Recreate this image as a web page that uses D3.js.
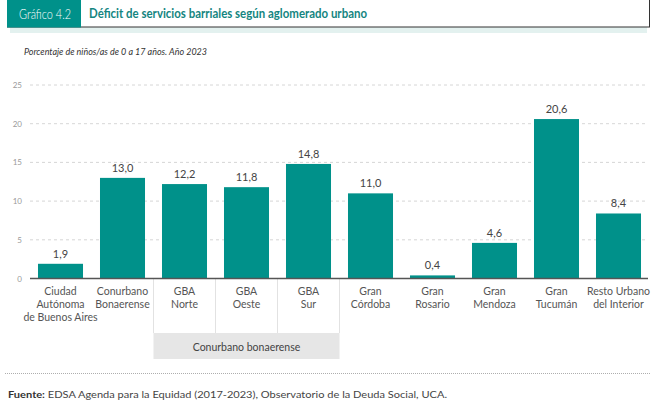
<!DOCTYPE html>
<html><head><meta charset="utf-8">
<script src="https://cdn.jsdelivr.net/npm/d3@7"></script>
<style>body{margin:0;background:#fff}svg{display:block;font-family:Lato,"Noto Sans",sans-serif}</style>
</head><body><svg id="c" width="662" height="409"></svg>
<script>
const categories = [
  ["Ciudad","Autónoma","de Buenos Aires"],
  ["Conurbano","Bonaerense"],
  ["GBA","Norte"],
  ["GBA","Oeste"],
  ["GBA","Sur"],
  ["Gran","Córdoba"],
  ["Gran","Rosario"],
  ["Gran","Mendoza"],
  ["Gran","Tucumán"],
  ["Resto Urbano","del Interior"]
];
const values = [1.9, 13.0, 12.2, 11.8, 14.8, 11.0, 0.4, 4.6, 20.6, 8.4];
const yTicks = [0, 5, 10, 15, 20, 25];
const groupLabel = "Conurbano bonaerense";
const groupMembers = [2, 3, 4];

const teal = "#00918a";
const svg = d3.select("#c");
const ids = categories.map((d,i)=>i);
const x = d3.scaleBand().domain(ids).range([29.5, 649.5]).paddingInner(0.274).paddingOuter(0.137);
const y = d3.scaleLinear().domain([0,25]).range([278.5, 85]);

// Header
svg.append("rect").attr("x",10).attr("y",27).attr("width",637).attr("height",6).attr("fill","#e3f1ef");
svg.append("rect").attr("x",7.5).attr("y",-2).attr("width",642).attr("height",29).attr("fill","#fff").attr("stroke","#333").attr("stroke-width",1);
svg.append("rect").attr("x",7).attr("y",0).attr("width",74).attr("height",27.5).attr("fill","#00918a");
svg.append("text").attr("x",19).attr("y",18.5).attr("fill","#fff").attr("font-size",14).attr("font-weight",300)
  .attr("textLength",52).attr("lengthAdjust","spacingAndGlyphs").text("Gráfico 4.2");
svg.append("text").attr("x",89).attr("y",18).attr("fill","#14857f").attr("font-size",13.5).attr("font-weight","bold")
  .attr("textLength",278).attr("lengthAdjust","spacingAndGlyphs").text("Déficit de servicios barriales según aglomerado urbano");

svg.append("text").attr("x",24).attr("y",55).attr("fill","#333").attr("font-size",10).attr("font-style","italic")
  .attr("textLength",183).attr("lengthAdjust","spacingAndGlyphs").text("Porcentaje de niños/as de 0 a 17 años. Año 2023");

// Grid
const g = svg.append("g");
g.selectAll("line.grid").data(yTicks.filter(t=>t>0)).join("line")
  .attr("x1",30).attr("x2",648).attr("y1",d=>y(d)).attr("y2",d=>y(d))
  .attr("stroke","#ccc").attr("stroke-dasharray","3,3").attr("stroke-width",0.8);
g.selectAll("text.yt").data(yTicks).join("text")
  .attr("x",22).attr("y",d=>y(d)+3).attr("text-anchor","end").attr("fill","#999").attr("font-size",8).text(d=>d);

// Group box
const gx0 = x(groupMembers[0]) - x.step()*x.paddingInner()/2;
const gx1 = x(groupMembers[groupMembers.length-1]) + x.bandwidth() + x.step()*x.paddingInner()/2;
svg.append("rect").attr("x",gx0).attr("y",333).attr("width",gx1-gx0).attr("height",26).attr("fill","#e6e6e6");
svg.append("text").attr("x",(gx0+gx1)/2).attr("y",351).attr("text-anchor","middle").attr("fill","#444").attr("font-size",10.5).text(groupLabel);
const seps = groupMembers.map(i=>x(i)-x.step()*x.paddingInner()/2).concat([gx1]);
svg.selectAll("line.sep").data(seps).join("line")
  .attr("x1",d=>d).attr("x2",d=>d).attr("y1",279).attr("y2",333).attr("stroke","#e2e2e2");

// Bars
svg.selectAll("rect.bar").data(values).join("rect")
  .attr("x",(d,i)=>x(i)).attr("width",x.bandwidth())
  .attr("y",d=>y(d)).attr("height",d=>y(0)-y(d)).attr("fill",teal);
svg.selectAll("text.val").data(values).join("text")
  .attr("x",(d,i)=>x(i)+x.bandwidth()/2).attr("y",d=>y(d)-6).attr("text-anchor","middle")
  .attr("fill","#444").attr("font-size",11).text(d=>d.toFixed(1).replace(".",","));

// Axis
svg.append("line").attr("x1",30).attr("x2",648).attr("y1",278.5).attr("y2",278.5).attr("stroke","#555").attr("stroke-width",1.3);

// Category labels
categories.forEach((lines,i)=>{
  const t = svg.append("text").attr("text-anchor","middle").attr("fill","#555").attr("font-size",10.5);
  lines.forEach((l,j)=>t.append("tspan").attr("x",x(i)+x.bandwidth()/2).attr("y",295+j*13).text(l));
});

// Footer
svg.append("line").attr("x1",5).attr("x2",650).attr("y1",373.5).attr("y2",373.5).attr("stroke","#999").attr("stroke-dasharray","1,1").attr("stroke-width",0.8);
const f = svg.append("text").attr("x",8).attr("y",398).attr("font-size",10).attr("fill","#444")
  .attr("textLength",439).attr("lengthAdjust","spacingAndGlyphs");
f.append("tspan").attr("font-weight","bold").attr("fill","#333").text("Fuente:");
f.append("tspan").text(" EDSA Agenda para la Equidad (2017-2023), Observatorio de la Deuda Social, UCA.");
</script></body></html>
